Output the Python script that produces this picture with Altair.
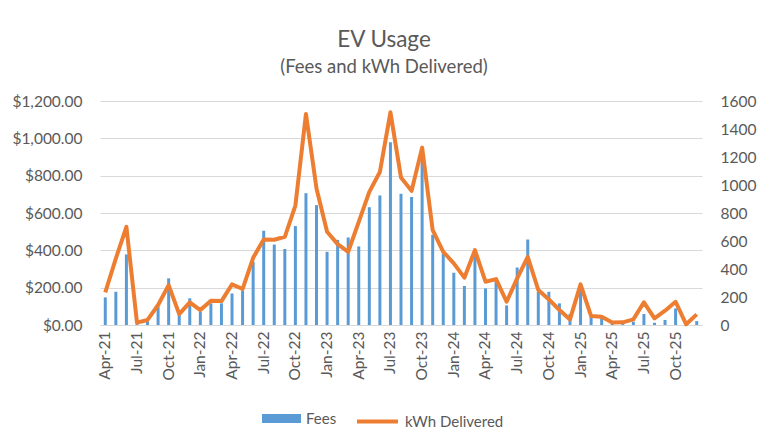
import altair as alt
import pandas as pd

months = [
    "Apr-21", "May-21", "Jun-21", "Jul-21", "Aug-21", "Sep-21", "Oct-21", "Nov-21", "Dec-21",
    "Jan-22", "Feb-22", "Mar-22", "Apr-22", "May-22", "Jun-22", "Jul-22", "Aug-22", "Sep-22",
    "Oct-22", "Nov-22", "Dec-22",
    "Jan-23", "Feb-23", "Mar-23", "Apr-23", "May-23", "Jun-23", "Jul-23", "Aug-23", "Sep-23",
    "Oct-23", "Nov-23", "Dec-23",
    "Jan-24", "Feb-24", "Mar-24", "Apr-24", "May-24", "Jun-24", "Jul-24", "Aug-24", "Sep-24",
    "Oct-24", "Nov-24", "Dec-24",
    "Jan-25", "Feb-25", "Mar-25", "Apr-25", "May-25", "Jun-25", "Jul-25", "Aug-25", "Sep-25",
    "Oct-25", "Nov-25", "Dec-25",
]

fees = [
    148, 178, 378, 5, 20, 98, 250, 55, 143,
    71, 116, 116, 169, 184, 339, 505, 431, 407,
    530, 706, 642,
    392, 456, 469, 421, 631, 694, 979, 703, 686,
    892, 483, 383,
    280, 209, 366, 196, 230, 105, 308, 458, 178,
    178, 116, 59,
    195, 45, 39, 9, 9, 18, 59, 12, 27,
    89, 5, 21,
]

kwh = [
    233, 475, 701, 17, 36, 143, 285, 78, 162,
    107, 174, 171, 290, 257, 480, 611, 609, 630,
    853, 1507, 975,
    666, 578, 523, 737, 951, 1093, 1519, 1053, 958,
    1267, 677, 523,
    440, 338, 535, 309, 328, 166, 333, 487, 250,
    183, 107, 40,
    290, 64, 59, 17, 19, 40, 162, 48, 102,
    166, 5, 76,
]

fee_ticks = [0, 200, 400, 600, 800, 1000, 1200]
kwh_ticks = [0, 200, 400, 600, 800, 1000, 1200, 1400, 1600]

df = pd.DataFrame({"month": months, "fees": fees, "kwh": kwh})

FONT = "Lato"
GREY = "#595959"
GRID = "#D9D9D9"

x = alt.X(
    "month:N",
    sort=months,
    scale=alt.Scale(paddingInner=0, paddingOuter=0),
    axis=alt.Axis(
        title=None,
        labelAngle=-90,
        labelExpr="indexof(['Jan','Apr','Jul','Oct'], slice(datum.label,0,3)) >= 0 ? datum.label : ''",
        labelOverlap=False,
        ticks=False,
        domainColor=GRID,
        domainWidth=1,
        labelColor=GREY,
        labelFont=FONT,
        labelFontSize=15.5,
        labelPadding=6,
    ),
)

bars = (
    alt.Chart(df)
    .transform_calculate(s1="'Fees'")
    .mark_bar(size=3)
    .encode(
        x=x,
        y=alt.Y(
            "fees:Q",
            scale=alt.Scale(domain=[0, 1200]),
            axis=alt.Axis(
                title=None,
                values=fee_ticks,
                format="$,.2f",
                grid=True,
                gridColor=GRID,
                domain=False,
                ticks=False,
                labelPadding=18,
                labelColor=GREY,
                labelFont=FONT,
                labelFontSize=15.5,
            ),
        ),
        color=alt.Color(
            "s1:N",
            scale=alt.Scale(domain=["Fees"], range=["#5B9BD5"]),
            legend=alt.Legend(
                title=None,
                orient="none",
                legendX=162,
                legendY=298,
                symbolType="M-1,-0.23H1V0.23H-1Z",
                symbolSize=1521,
                symbolStrokeWidth=0,
                symbolOpacity=1,
                labelFont=FONT,
                labelFontSize=15,
                labelColor=GREY,
                labelOffset=5,
            ),
        ),
    )
)

line = (
    alt.Chart(df)
    .transform_calculate(s2="'kWh Delivered'")
    .mark_line(strokeWidth=4, strokeJoin="round")
    .encode(
        x=x,
        y=alt.Y(
            "kwh:Q",
            scale=alt.Scale(domain=[0, 1600]),
            axis=alt.Axis(
                title=None,
                orient="right",
                values=kwh_ticks,
                format="d",
                grid=False,
                domain=False,
                ticks=False,
                labelPadding=18,
                labelColor=GREY,
                labelFont=FONT,
                labelFontSize=15.5,
            ),
        ),
        stroke=alt.Stroke(
            "s2:N",
            scale=alt.Scale(domain=["kWh Delivered"], range=["#ED7D31"]),
            legend=alt.Legend(
                title=None,
                orient="none",
                legendX=255,
                legendY=298,
                symbolType="stroke",
                symbolSize=1681,
                symbolStrokeWidth=4,
                labelFont=FONT,
                labelFontSize=15,
                labelColor=GREY,
                labelOffset=5,
            ),
        ),
    )
)

chart = (
    alt.layer(bars, line)
    .resolve_scale(y="independent")
    .resolve_legend(color="independent", stroke="independent")
    .properties(
        width=602,
        height=224,
        autosize=alt.AutoSizeParams(type="none"),
        padding={"left": 92, "top": 93, "right": 56, "bottom": 118},
        title=alt.TitleParams(
            text="EV Usage",
            subtitle="(Fees and kWh Delivered)",
            font=FONT,
            fontSize=22.5,
            fontWeight="normal",
            color=GREY,
            subtitleFont=FONT,
            subtitleFontSize=18.5,
            subtitleColor=GREY,
            subtitlePadding=6,
            anchor="middle",
            frame="group",
            dx=-17,
            offset=18,
        ),
    )
    .configure_view(stroke=None)
)

chart.save("out.html", embed_options={"renderer": "svg", "actions": False})
